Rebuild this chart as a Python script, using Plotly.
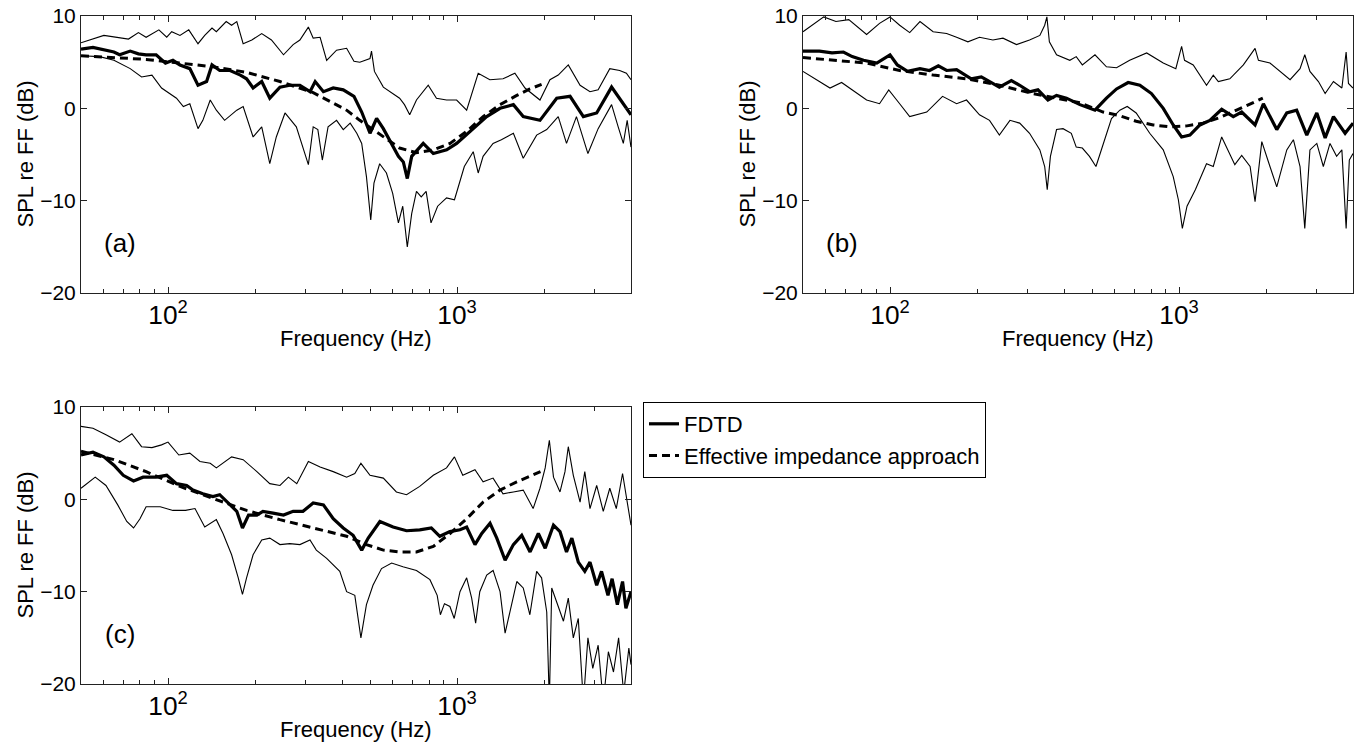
import math
import plotly.graph_objects as go

FONT = "Liberation Sans, Arial, Helvetica, sans-serif"

# ---------------- Panel (a) ----------------
fa_fdtd = [50, 55, 65, 68, 74, 79, 84, 91, 98, 104, 110, 119, 127, 136, 142, 151, 164, 178, 187, 197,
           211, 225, 244, 264, 286, 310, 323, 345, 373, 404, 440, 468, 500, 527, 556, 594, 627, 652, 673, 697,
           764, 828, 921, 997, 1109, 1267, 1409, 1567, 1695, 1937, 2213, 2461, 2737, 3043, 3427, 3763, 4000]
a_fdtd = [6.4, 6.6, 6.1, 5.8, 6.2, 5.9, 5.8, 5.8, 4.9, 5.2, 4.7, 4.3, 2.5, 2.9, 4.7, 4.1, 4.1, 3.6, 3.2, 2.2,
          2.9, 1.1, 2.3, 2.5, 2.5, 1.8, 2.9, 1.8, 2.2, 2.0, 1.3, -0.4, -2.7, -1.1, -2.2, -3.8, -5.2, -5.8, -7.6, -5.2,
          -3.8, -4.9, -4.5, -3.8, -2.5, -0.9, 0.0, 0.4, -0.9, -1.3, 1.1, 1.3, -0.9, -0.5, 2.3, 0.5, -0.7]

fa_up = [50, 60, 73, 79, 84, 93, 99, 103, 110, 118, 127, 134, 142, 147, 159, 166, 173, 182, 195, 211,
         228, 251, 271, 286, 306, 318, 336, 354, 383, 415, 440, 461, 500, 506, 518, 556, 633, 658, 686, 724,
         795, 849, 920, 997, 1080, 1138, 1184, 1299, 1443, 1586, 1719, 1937, 2097, 2240, 2427, 2666, 2885, 3079, 3378, 3655,
         3856, 4000]
a_up = [7.1, 7.9, 7.5, 8.2, 7.7, 8.5, 7.7, 8.3, 7.9, 8.5, 7.0, 7.9, 8.7, 8.3, 9.4, 9.0, 9.4, 7.0, 7.4, 8.1,
        7.4, 5.8, 6.9, 7.4, 8.8, 7.6, 7.7, 5.2, 6.3, 6.5, 5.1, 5.0, 5.4, 6.2, 4.0, 2.3, 1.1, 0.4, -0.7, 0.9,
        2.5, 1.1, 0.9, 0.9, -0.2, 2.0, 3.8, 3.1, 3.2, 3.8, 2.2, 0.9, 3.1, 3.6, 4.7, 2.5, 1.8, 2.0, 4.3, 4.1,
        3.8, 3.1]

fa_lo = [50, 58, 65, 74, 81, 88, 95, 107, 113, 119, 127, 132, 140, 147, 157, 173, 182, 197, 211, 225,
         237, 254, 278, 306, 318, 330, 342, 358, 383, 404, 427, 450, 468, 486, 503, 516, 540, 570, 599, 627,
         649, 673, 697, 724, 752, 782, 813, 857, 920, 980, 1060, 1138, 1184, 1231, 1333, 1424, 1567, 1695, 1886, 2044,
         2240, 2393, 2590, 2838, 3079, 3427, 3612, 3763, 3880, 4000]
a_lo = [5.7, 5.6, 5.2, 4.3, 3.4, 3.6, 2.2, 1.1, 0.2, 0.5, -2.2, -1.3, 0.9, -0.2, -1.3, -0.2, 0.2, -3.1, -2.0, -6.0,
        -3.1, -0.5, -2.0, -6.1, -2.0, -2.3, -5.6, -2.0, -1.3, -2.3, -1.6, -2.7, -3.8, -7.4, -12.1, -8.1, -6.0, -7.0, -9.2, -12.4,
        -10.6, -15.0, -11.4, -9.0, -9.6, -9.0, -12.4, -10.6, -9.7, -9.9, -6.3, -4.7, -7.0, -5.2, -3.8, -3.4, -2.7, -5.4, -2.9, -2.3,
        -0.9, -3.8, -0.9, -4.9, -2.2, 0.4, -2.0, -3.8, -1.3, -4.2]

fa_eia = [50, 65, 84, 110, 143, 187, 244, 318, 415, 461, 556, 633, 724, 828, 946, 1080, 1231, 1409, 1610, 1787, 1962]
a_eia = [5.7, 5.5, 5.3, 4.9, 4.5, 3.9, 2.9, 1.7, -0.2, -1.3, -3.1, -4.3, -4.8, -4.5, -3.8, -2.5, -0.9, 0.4, 1.4, 2.1, 2.6]

# ---------------- Panel (b) ----------------
fb_fdtd = [50, 57, 63, 69, 74, 81, 90, 100, 106, 115, 127, 137, 147, 157, 170, 179, 191, 207, 221, 239,
           263, 281, 304, 325, 352, 377, 408, 454, 512, 561, 608, 667, 732, 803, 882, 955, 1021, 1091, 1181, 1279,
           1405, 1541, 1648, 1833, 1959, 2179, 2360, 2553, 2768, 2998, 3204, 3423, 3756, 4000]
b_fdtd = [6.2, 6.2, 6.0, 6.1, 5.6, 5.2, 4.9, 5.8, 4.7, 4.0, 4.3, 4.1, 4.6, 4.1, 4.2, 3.8, 3.2, 3.4, 2.9, 2.3,
          3.0, 2.5, 1.8, 2.0, 0.9, 1.4, 1.1, 0.4, -0.2, 1.1, 2.1, 2.8, 2.5, 1.6, 0.0, -1.8, -3.1, -2.9, -1.8, -1.3,
          -0.1, -0.9, -0.4, -1.8, 0.5, -2.3, -0.5, -0.2, -2.9, -0.5, -3.2, -0.9, -2.7, -1.6]

fb_up = [50, 55, 59, 65, 72, 83, 92, 100, 108, 117, 127, 141, 157, 170, 186, 204, 227, 246, 274, 304,
         330, 343, 349, 356, 377, 419, 441, 463, 512, 561, 608, 675, 773, 882, 975, 1021, 1045, 1120, 1196, 1245,
         1314, 1368, 1499, 1670, 1833, 1883, 2064, 2236, 2423, 2623, 2724, 2838, 3037, 3204, 3423, 3661, 3787, 3858, 4000]
b_up = [8.3, 9.2, 9.9, 9.4, 9.6, 8.0, 9.2, 9.9, 9.0, 8.2, 9.4, 8.3, 8.1, 7.7, 7.2, 7.7, 7.4, 7.6, 6.9, 7.4,
        7.9, 9.0, 9.9, 7.2, 5.8, 5.2, 5.6, 4.7, 5.8, 4.5, 4.4, 5.2, 6.0, 4.9, 4.3, 6.7, 5.2, 4.7, 3.4, 2.5,
        3.6, 2.9, 3.2, 4.7, 6.5, 5.2, 4.9, 4.0, 3.1, 4.3, 5.8, 4.0, 2.9, 1.6, 2.9, 2.2, 6.1, 2.7, 2.2]

fb_lo = [50, 56, 62, 68, 74, 83, 92, 99, 108, 117, 134, 152, 170, 184, 204, 221, 239, 260, 281, 304,
         330, 343, 350, 359, 377, 397, 424, 441, 463, 490, 516, 546, 584, 624, 662, 711, 792, 882, 955, 995,
         1027, 1066, 1140, 1245, 1314, 1405, 1478, 1560, 1648, 1762, 1833, 1934, 2064, 2179, 2360, 2488, 2623, 2724, 2838, 2998,
         3158, 3330, 3510, 3661, 3787, 3884, 4000]
b_lo = [4.0, 3.1, 2.2, 2.8, 2.0, 0.9, 0.5, 2.0, 0.5, -0.9, -0.4, 1.3, 0.5, 0.9, -0.7, -1.3, -2.9, -1.3, -1.6, -2.7,
        -4.5, -6.3, -8.8, -5.2, -2.3, -2.2, -2.7, -4.2, -4.3, -5.2, -6.3, -3.8, -1.1, -0.2, 0.2, -0.5, -2.7, -4.5, -7.4, -9.9,
        -13.0, -10.6, -8.8, -6.0, -6.3, -3.1, -4.5, -6.1, -5.1, -6.3, -10.1, -3.6, -6.3, -8.5, -4.5, -3.4, -6.3, -13.0, -4.5, -3.8,
        -6.3, -3.8, -5.2, -4.5, -13.0, -5.6, -4.9]

fb_eia = [50, 63, 83, 108, 141, 184, 239, 312, 408, 454, 546, 624, 711, 814, 930, 1066, 1212, 1384, 1582, 1762, 1950]
b_eia = [5.5, 5.2, 4.9, 4.1, 3.6, 3.2, 2.5, 1.6, 0.9, 0.6, -0.4, -0.8, -1.4, -1.8, -2.0, -1.9, -1.6, -1.0, -0.2, 0.5, 1.1]

# ---------------- Panel (c) ----------------
fc_fdtd = [50, 55, 60, 65, 70, 76, 82, 91, 99, 107, 116, 122, 132, 143, 151, 162, 173, 181, 190, 203,
           213, 231, 251, 271, 293, 318, 345, 373, 404, 437, 468, 493, 541, 601, 669, 743, 815, 872, 945, 1024,
           1080, 1154, 1218, 1301, 1373, 1467, 1567, 1675, 1790, 1912, 2019, 2157, 2272, 2393, 2497, 2628, 2768, 2885, 3043, 3163,
           3330, 3441, 3588, 3740, 3841, 4000]
c_fdtd = [4.8, 5.1, 4.6, 3.7, 2.6, 2.0, 2.4, 2.4, 2.6, 1.7, 1.5, 1.0, 0.6, 0.3, 0.5, -0.4, -1.3, -3.1, -1.7, -1.7,
          -1.3, -1.5, -1.7, -1.3, -1.3, -0.4, -0.6, -2.1, -3.1, -3.9, -5.5, -4.2, -2.4, -3.0, -3.4, -3.3, -3.1, -4.0, -3.5, -3.3,
          -3.0, -4.9, -3.7, -2.6, -4.2, -6.6, -4.9, -3.9, -5.7, -3.7, -5.3, -2.8, -3.5, -5.7, -4.2, -6.8, -7.8, -6.8, -9.3, -7.8,
          -10.4, -8.6, -11.4, -8.9, -11.8, -10.0]

fc_up = [50, 55, 61, 68, 75, 81, 88, 95, 100, 109, 119, 129, 140, 147, 166, 182, 203, 225, 244, 261,
         279, 306, 336, 373, 415, 443, 465, 500, 556, 617, 669, 743, 828, 920, 980, 1047, 1154, 1231, 1333, 1443,
         1567, 1695, 1834, 1937, 2019, 2087, 2157, 2272, 2364, 2427, 2526, 2666, 2768, 2885, 3043, 3207, 3378, 3558, 3740, 3856,
         4000]
c_up = [7.9, 7.7, 7.0, 6.2, 7.1, 5.7, 5.6, 5.9, 6.2, 4.8, 5.0, 4.1, 3.9, 3.4, 4.6, 4.3, 3.0, 1.7, 1.5, 2.4,
        1.7, 4.1, 3.5, 3.0, 2.4, 2.8, 3.9, 2.6, 2.3, 0.8, 0.5, 1.4, 2.6, 3.4, 4.6, 2.6, 3.2, 1.9, 2.3, 0.6,
        0.8, 1.0, -1.0, 1.2, 3.4, 6.4, 2.4, 0.8, 3.0, 5.7, 2.6, -0.3, 3.0, -1.0, 1.5, -1.3, 1.2, -1.0, 2.8, 0.1,
        -2.8]

fc_lo = [50, 56, 61, 67, 72, 76, 80, 84, 94, 104, 115, 124, 134, 147, 155, 166, 175, 181, 187, 197,
         211, 225, 244, 264, 286, 310, 326, 354, 393, 415, 443, 465, 486, 512, 548, 594, 650, 724, 806, 854,
         876, 905, 945, 978, 1024, 1080, 1124, 1160, 1199, 1267, 1333, 1409, 1467, 1525, 1610, 1695, 1787, 1886, 1962, 2044,
         2087, 2127, 2212, 2335, 2427, 2526, 2628, 2737, 2838, 2950, 3079, 3207, 3340, 3479, 3624, 3774, 3932, 4000]
c_lo = [1.2, 2.4, 1.5, -0.6, -2.4, -3.1, -2.1, -0.8, -0.8, -1.2, -1.2, -1.0, -3.0, -2.2, -3.7, -6.0, -8.5, -10.3, -8.5, -6.0,
        -4.4, -4.2, -4.9, -4.8, -4.9, -4.4, -5.5, -6.4, -7.8, -10.0, -10.4, -15.0, -11.4, -9.3, -7.5, -6.9, -7.3, -7.7, -8.7, -10.4,
        -12.5, -11.3, -11.6, -12.9, -10.0, -8.5, -10.7, -13.4, -10.0, -8.2, -7.7, -10.0, -14.5, -12.2, -8.9, -9.6, -12.5, -7.8, -8.5, -12.2,
        -22.0, -9.6, -11.1, -13.2, -10.7, -15.0, -12.9, -22.0, -15.0, -18.3, -15.8, -22.0, -16.5, -18.7, -15.0, -21.0, -16.1, -17.9]

fc_eia = [50, 65, 84, 110, 143, 187, 244, 318, 415, 486, 556, 633, 724, 828, 946, 1080, 1231, 1409, 1610, 1787, 1945]
c_eia = [5.2, 4.3, 3.0, 1.4, 0.1, -1.2, -2.2, -3.1, -4.0, -4.9, -5.5, -5.7, -5.7, -5.1, -3.7, -2.1, -0.3, 1.0, 1.9, 2.5, 3.0]

panel_labels = ["(a)", "(b)", "(c)"]
x_title = "Frequency (Hz)"
y_title = "SPL re FF (dB)"
legend_names = ["FDTD", "Effective impedance approach"]

panels = [
    (fa_up, a_up, fa_lo, a_lo, fa_eia, a_eia, fa_fdtd, a_fdtd),
    (fb_up, b_up, fb_lo, b_lo, fb_eia, b_eia, fb_fdtd, b_fdtd),
    (fc_up, c_up, fc_lo, c_lo, fc_eia, c_eia, fc_fdtd, c_fdtd),
]

W, H = 1356, 743
# pixel boxes (left, right, top, bottom)
boxes = [(81, 631, 16, 293), (803, 1353, 16, 293), (81, 631, 407, 684)]

fig = go.Figure()
for i, (fu, yu, fl, yl, fe, ye, ff, yf) in enumerate(panels):
    xa = "x" if i == 0 else f"x{i+1}"
    ya = "y" if i == 0 else f"y{i+1}"
    fig.add_trace(go.Scatter(x=fu, y=yu, mode="lines", line=dict(color="black", width=1.1),
                             showlegend=False, xaxis=xa, yaxis=ya, hoverinfo="skip"))
    fig.add_trace(go.Scatter(x=fl, y=yl, mode="lines", line=dict(color="black", width=1.1),
                             showlegend=False, xaxis=xa, yaxis=ya, hoverinfo="skip"))
    fig.add_trace(go.Scatter(x=fe, y=ye, mode="lines", name=legend_names[1],
                             line=dict(color="black", width=3, dash="8px,5px"),
                             showlegend=(i == 0), legendgroup="eia", legendrank=2,
                             xaxis=xa, yaxis=ya))
    fig.add_trace(go.Scatter(x=ff, y=yf, mode="lines", name=legend_names[0],
                             line=dict(color="black", width=3.2),
                             showlegend=(i == 0), legendgroup="fdtd", legendrank=1,
                             xaxis=xa, yaxis=ya))

axis_color = "#222222"
layout = dict(
    width=W, height=H,
    margin=dict(l=0, r=0, t=0, b=0, pad=0, autoexpand=False),
    paper_bgcolor="white", plot_bgcolor="white",
    font=dict(family=FONT, color="black", size=21),
    showlegend=True,
    legend=dict(x=643 / W, y=1 - 402 / H, xanchor="left", yanchor="top",
                bordercolor="black", borderwidth=1, bgcolor="white",
                font=dict(family=FONT, size=22, color="black"),
                traceorder="normal", tracegroupgap=0),
)

annotations = []
for i, (l, r, t, b) in enumerate(boxes):
    sfx = "" if i == 0 else str(i + 1)
    layout["xaxis" + sfx] = dict(
        type="log", range=[math.log10(50), math.log10(4000)],
        domain=[l / W, r / W], anchor="y" + sfx, automargin=False,
        dtick=1, exponentformat="power", showexponent="all",
        ticks="inside", ticklen=6, tickwidth=1, tickcolor=axis_color,
        minor=dict(ticks="inside", ticklen=4, tickwidth=1, tickcolor=axis_color, dtick="D1", showgrid=False),
        showline=True, linecolor=axis_color, linewidth=1, mirror="ticks",
        showgrid=False, zeroline=False,
        tickfont=dict(family=FONT, size=21, color="black"),
    )
    layout["yaxis" + sfx] = dict(
        range=[-20, 10], domain=[1 - b / H, 1 - t / H], anchor="x" + sfx, automargin=False,
        dtick=10, tick0=0,
        ticks="inside", ticklen=6, tickwidth=1, tickcolor=axis_color,
        showline=True, linecolor=axis_color, linewidth=1, mirror="ticks",
        showgrid=False, zeroline=False,
        tickfont=dict(family=FONT, size=21, color="black"),
    )
    # axis titles
    annotations.append(dict(text=x_title, x=(l + r) / 2 / W, y=1 - (b + 45) / H,
                            xref="paper", yref="paper", showarrow=False,
                            xanchor="center", yanchor="middle",
                            font=dict(family=FONT, size=22, color="black")))
    annotations.append(dict(text=y_title, x=(l - 56) / W, y=1 - (t + b) / 2 / H,
                            xref="paper", yref="paper", showarrow=False, textangle=-90,
                            xanchor="center", yanchor="middle",
                            font=dict(family=FONT, size=22, color="black")))
    annotations.append(dict(text=panel_labels[i], x=(l + 39) / W, y=1 - (b - 50) / H,
                            xref="paper", yref="paper", showarrow=False,
                            xanchor="center", yanchor="middle",
                            font=dict(family=FONT, size=26, color="black")))

layout["annotations"] = annotations
fig.update_layout(**layout)

fig.write_html("out.html", config={"displayModeBar": False},
               post_script="document.body.style.margin='0px';document.body.style.padding='0px';")
